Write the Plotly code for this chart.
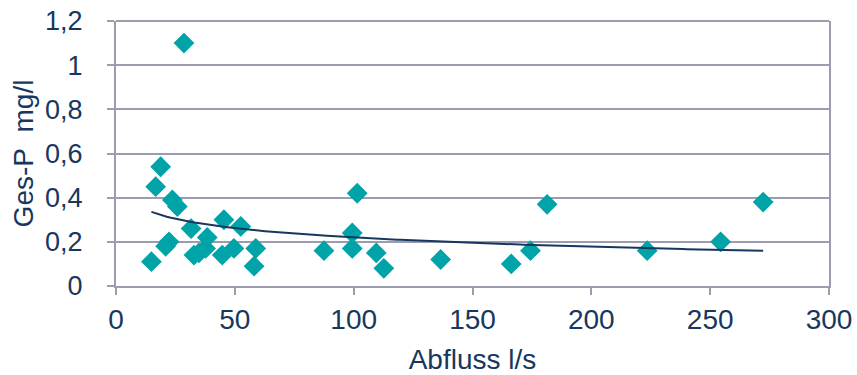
import numpy as np
import plotly.graph_objects as go

abfluss = [14.9, 28.6, 18.8, 16.7, 23.7, 25.8, 31.6, 22.3, 20.9, 32.8, 38.4, 37.7, 34.9,
           45.4, 52.5, 49.6, 44.7, 58.8, 58.1, 101.5, 99.4, 99.4, 87.5, 109.5, 112.7,
           136.6, 166.3, 174.4, 181.4, 223.5, 254.4, 272.3]
ges_p = [0.11, 1.10, 0.54, 0.45, 0.39, 0.36, 0.26, 0.20, 0.18, 0.14, 0.22, 0.17, 0.15,
         0.30, 0.27, 0.17, 0.14, 0.17, 0.09, 0.42, 0.24, 0.17, 0.16, 0.15, 0.08,
         0.12, 0.10, 0.16, 0.37, 0.16, 0.20, 0.38]

y_tickvals = [0, 0.2, 0.4, 0.6, 0.8, 1.0, 1.2]
y_ticktext = ["0", "0,2", "0,4", "0,6", "0,8", "1", "1,2"]
x_tickvals = [0, 50, 100, 150, 200, 250, 300]

# logarithmic trendline y = a + b*ln(x), coefficients
trend_a = 0.500
trend_b = -0.0608

x_arr = np.array(abfluss)
y_arr = np.array(ges_p)
x_fit = np.linspace(x_arr.min(), x_arr.max(), 200)
y_fit = trend_a + trend_b * np.log(x_fit)

navy = "#17375E"
grid = "#9C9CB0"
teal = "#00A3A8"
font = "Liberation Sans, Arial, sans-serif"
fs = 28
fsy = 27

fig = go.Figure()
fig.add_trace(go.Scatter(x=x_arr, y=y_arr, mode="markers",
                         marker=dict(symbol="diamond", size=16, color=teal, line=dict(width=0)),
                         showlegend=False))
fig.add_trace(go.Scatter(x=x_fit, y=y_fit, mode="lines",
                         line=dict(color=navy, width=2), showlegend=False))

# top gridline at the upper end of the y range (plot-area top edge)
fig.add_shape(type="line", xref="paper", yref="paper", x0=0, x1=1, y0=1, y1=1,
              line=dict(color=grid, width=2), layer="below")

fig.update_layout(
    width=857, height=375,
    margin=dict(l=116, r=28, t=21, b=89),
    paper_bgcolor="white", plot_bgcolor="white",
    font=dict(family=font, color=navy, size=fs),
    xaxis=dict(range=[0, 300], tickvals=x_tickvals, showgrid=False, zeroline=False,
               automargin=False, ticklabeloverflow="allow",
               showline=True, linecolor=grid, linewidth=2, ticks="outside", ticklen=7,
               tickcolor=grid, tickwidth=2, ticklabelstandoff=0,
               tickfont=dict(size=fs, color=navy, family=font),
               title=dict(text="Abfluss l/s", font=dict(size=fs, color=navy, family=font), standoff=20)),
    yaxis=dict(range=[0, 1.2], tickvals=y_tickvals, ticktext=y_ticktext, showgrid=True,
               automargin=False, ticklabeloverflow="allow",
               gridcolor=grid, gridwidth=2, zeroline=False, showline=True, linecolor=grid,
               linewidth=2, mirror=True, ticks="outside", ticklen=7, tickcolor=grid, tickwidth=2,
               ticklabelstandoff=19,
               tickfont=dict(size=fsy, color=navy, family=font),
               title=dict(text="Ges-P\u00a0\u00a0mg/l", font=dict(size=fs, color=navy, family=font), standoff=3)),
)

# remove the default page margin so the figure fills the window exactly
fig.write_html("out.html", config={"displayModeBar": False},
               post_script="document.body.style.margin='0';document.body.style.overflow='hidden';")
